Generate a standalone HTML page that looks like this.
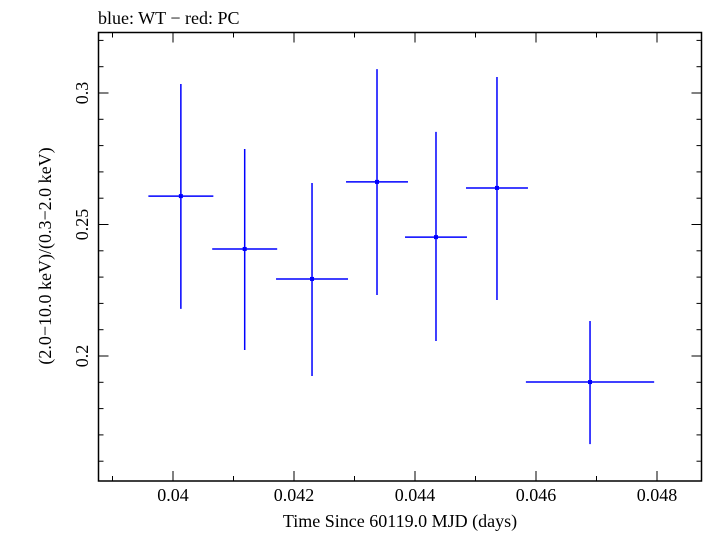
<!DOCTYPE html>
<html><head><meta charset="utf-8"><style>
body{margin:0;background:#fff;}
svg text{font-family:"Liberation Serif",serif;fill:#000;}
</style></head><body>
<svg id="chart" width="705" height="532" xmlns="http://www.w3.org/2000/svg">
<text x="98" y="24" font-size="18">blue: WT − red: PC</text>
<rect x="98.5" y="32.5" width="603" height="448.5" fill="none" stroke="#000" stroke-width="1.5"/>
<g id="axes"></g>
<g id="marks"></g>
<text x="400" y="527" font-size="18" text-anchor="middle">Time Since 60119.0 MJD (days)</text>
<text transform="translate(51,256) rotate(-90)" font-size="18" text-anchor="middle">(2.0−10.0 keV)/(0.3−2.0 keV)</text>
</svg>
<script>
const times=[0.04013,0.041185,0.042298,0.043372,0.044347,0.045355,0.046893];
const halfWidths=[0.000537,0.000537,0.000595,0.000512,0.000512,0.000512,0.00106];
const ratios=[0.2608,0.2407,0.2293,0.2662,0.2452,0.2639,0.1901];
const errHigh=[0.3034,0.2787,0.2658,0.3091,0.2852,0.3061,0.2133];
const errLow=[0.2179,0.2023,0.1924,0.2232,0.2057,0.2213,0.1665];
const xTicks=[0.04,0.042,0.044,0.046,0.048];
const xTickLabels=["0.04","0.042","0.044","0.046","0.048"];
const yTicks=[0.2,0.25,0.3];
const yTickLabels=["0.2","0.25","0.3"];

const L=98.5,R=701.5,T=32.5,B=481;
function xs(v){return 173+(v-0.04)*60500;}
function ys(v){return 93+(0.3-v)*2630;}
const NS="http://www.w3.org/2000/svg";
const axes=document.getElementById('axes'),marks=document.getElementById('marks');
function mk(tag,attrs,parent){const e=document.createElementNS(NS,tag);for(const k in attrs)e.setAttribute(k,attrs[k]);parent.appendChild(e);return e;}
for(let i=39;i<=51;i++){const v=i/1000;const x=xs(v);if(x<L||x>R)continue;const major=(i%2===0);
 const t1=mk('line',{x1:x,x2:x,y1:B,y2:B-(major?10:5),stroke:'#000','stroke-width':1},axes);
 
 
 const t2=mk('line',{x1:x,x2:x,y1:T,y2:T+(major?10:5),stroke:'#000','stroke-width':1},axes);
 
 }
xTicks.forEach((v,i)=>{const t=mk('text',{x:xs(v),y:501,'font-size':18,'text-anchor':'middle'},axes);t.textContent=xTickLabels[i];
 
 });
for(let i=16;i<=32;i++){const v=i/100;const y=ys(v);if(y<T||y>B)continue;const major=(i%5===0);
 const t1=mk('line',{x1:L,x2:L+(major?10:5),y1:y,y2:y,stroke:'#000','stroke-width':1},axes);
 
 
 const t2=mk('line',{x1:R,x2:R-(major?10:5),y1:y,y2:y,stroke:'#000','stroke-width':1},axes);
 
 }
yTicks.forEach((v,i)=>{const t=mk('text',{transform:`translate(88,${ys(v)}) rotate(-90)`,'font-size':18,'text-anchor':'middle'},axes);t.textContent=yTickLabels[i];
 
 });
times.forEach((t,i)=>{
 const g=mk('g',{},marks);
 
 
 mk('line',{x1:xs(t-halfWidths[i]),x2:xs(t+halfWidths[i]),y1:ys(ratios[i]),y2:ys(ratios[i]),stroke:'#0000ff','stroke-width':1.5},g);
 mk('line',{x1:xs(t),x2:xs(t),y1:ys(errHigh[i]),y2:ys(errLow[i]),stroke:'#0000ff','stroke-width':1.5},g);
 mk('rect',{x:xs(t)-2,y:ys(ratios[i])-2,width:4,height:4,fill:'#0000ff'},g);
});
</script>
</body></html>
